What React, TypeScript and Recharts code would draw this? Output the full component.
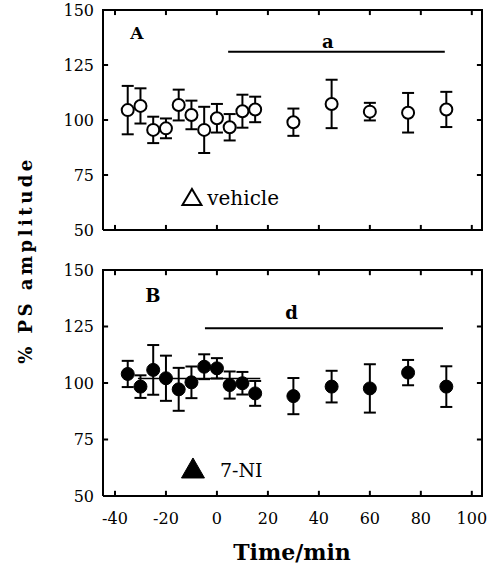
import React from 'react';
import { ScatterChart, Scatter, XAxis, YAxis, ErrorBar, ReferenceLine, ReferenceDot } from 'recharts';

const times = [-35, -30, -25, -20, -15, -10, -5, 0, 5, 10, 15, 30, 45, 60, 75, 90];
const vehicleMean = [104.5, 106.4, 95.5, 96.2, 106.8, 102.3, 95.5, 100.8, 96.7, 104, 104.8, 99, 107.3, 103.8, 103.3, 104.8];
const vehicleSem = [11, 8, 6, 4.5, 7, 6.5, 10.5, 6.5, 6, 7.5, 5.8, 6.2, 11, 4, 9, 8];
const niMean = [104, 98.4, 105.8, 102.1, 97.2, 100.3, 107.2, 106.5, 99.1, 99.9, 95.4, 94.2, 98.4, 97.6, 104.6, 98.4];
const niSem = [5.8, 5, 11, 10, 9.5, 7, 5.5, 4.5, 6, 5, 5.5, 8, 7, 10.7, 5.6, 9];
const xTicks = [-40, -20, 0, 20, 40, 60, 80, 100];
const yTicks = [50, 75, 100, 125, 150];

const dataA = times.map((t, i) => ({ t, v: vehicleMean[i], err: vehicleSem[i] }));
const dataB = times.map((t, i) => ({ t, v: niMean[i], err: niSem[i] }));

const FONT = 'DejaVu Serif';
const X_DOMAIN: [number, number] = [-44.7, 104];
const Y_DOMAIN: [number, number] = [50, 150];
const X_TICK_LEN = 2.3; // in y units (~5px)
const Y_TICK_LEN = 2; // in x units (~5px)

const NoShape = () => <g />;
const OpenCircle = (p: any) => (
  <circle cx={p.cx} cy={p.cy} r={6} fill="#fff" stroke="#000" strokeWidth={2} />
);
const FilledCircle = (p: any) => (
  <circle cx={p.cx} cy={p.cy} r={6.5} fill="#000" stroke="#000" strokeWidth={1} />
);

const textShape = (label: string, size: number, bold: boolean, anchor: string = 'middle', dx = 0, dy = 0) => (p: any) => (
  <text x={p.cx + dx} y={p.cy + dy} textAnchor={anchor} dominantBaseline="central" fontFamily={FONT} fontSize={size} fontWeight={bold ? 'bold' : 'normal'} fill="#000">
    {label}
  </text>
);
const triShape = (filled: boolean, w: number, h: number) => (p: any) => (
  <polygon
    points={`${p.cx - w / 2},${p.cy + h / 2} ${p.cx + w / 2},${p.cy + h / 2} ${p.cx},${p.cy - h / 2}`}
    fill={filled ? '#000' : '#fff'}
    stroke="#000"
    strokeWidth={filled ? 1 : 2}
    strokeLinejoin="miter"
  />
);

const lineStyle = { stroke: '#000', strokeWidth: 2 };

function frameSeries(prefix: string) {
  const segs: { t: number; v: number }[][] = [];
  segs.push([
    { t: X_DOMAIN[0], v: Y_DOMAIN[0] },
    { t: X_DOMAIN[0], v: Y_DOMAIN[1] },
    { t: X_DOMAIN[1], v: Y_DOMAIN[1] },
    { t: X_DOMAIN[1], v: Y_DOMAIN[0] },
    { t: X_DOMAIN[0], v: Y_DOMAIN[0] },
  ]);
  xTicks.forEach((t) => {
    segs.push([{ t, v: Y_DOMAIN[0] }, { t, v: Y_DOMAIN[0] + X_TICK_LEN }]);
    segs.push([{ t, v: Y_DOMAIN[1] }, { t, v: Y_DOMAIN[1] - X_TICK_LEN }]);
  });
  yTicks.forEach((v) => {
    segs.push([{ t: X_DOMAIN[0], v }, { t: X_DOMAIN[0] + Y_TICK_LEN, v }]);
    segs.push([{ t: X_DOMAIN[1], v }, { t: X_DOMAIN[1] - Y_TICK_LEN, v }]);
  });
  return segs.map((seg, i) => (
    <Scatter key={prefix + 'seg' + i} data={seg} dataKey="v" line={lineStyle} lineJointType="linear"
      shape={NoShape} fill="#000" legendType="none" isAnimationActive={false} />
  ));
}

function labelDots(prefix: string, withXLabels: boolean) {
  const els: any[] = [];
  if (withXLabels) {
    xTicks.forEach((t) => {
      els.push(<ReferenceDot key={prefix + 'xl' + t} x={t} y={Y_DOMAIN[0]} r={0} ifOverflow="visible" shape={textShape(String(t), 16, false, 'middle', 0, 22)} />);
    });
  }
  yTicks.forEach((v) => {
    els.push(<ReferenceDot key={prefix + 'ylab' + v} x={X_DOMAIN[0]} y={v} r={0} ifOverflow="visible" shape={textShape(String(v), 16, false, 'end', -9, 0)} />);
  });
  return els;
}

export default function App() {
  return (
    <div style={{ position: 'absolute', left: 0, top: 0, width: 494, height: 568, background: '#fff' }}>
      <div style={{ position: 'absolute', left: 0, top: 0 }}>
        <ScatterChart width={494} height={250} margin={{ top: 10, right: 12, bottom: 19, left: 0 }}>
          <XAxis dataKey="t" type="number" domain={X_DOMAIN} height={1} axisLine={false} tickLine={false} tick={false} />
          <YAxis dataKey="v" type="number" domain={Y_DOMAIN} width={103} axisLine={false} tickLine={false} tick={false} />
          {frameSeries('a')}
          {labelDots('a', false)}
          <ReferenceLine segment={[{ x: 4.4, y: 131 }, { x: 89.4, y: 131 }]} stroke="#000" strokeWidth={2} ifOverflow="visible" />
          <ReferenceDot x={43.5} y={135.5} r={0} ifOverflow="visible" shape={textShape('a', 18, true)} />
          <ReferenceDot x={-31.4} y={139.5} r={0} ifOverflow="visible" shape={textShape('A', 17, true)} />
          <ReferenceDot x={-9.8} y={65} r={0} ifOverflow="visible" shape={triShape(false, 19, 16)} />
          <ReferenceDot x={-3.8} y={64.5} r={0} ifOverflow="visible" shape={textShape('vehicle', 20, false, 'start')} />
          <Scatter data={dataA} dataKey="v" shape={OpenCircle} isAnimationActive={false}>
            <ErrorBar dataKey="err" direction="y" width={6} stroke="#000" strokeWidth={2} />
          </Scatter>
        </ScatterChart>
      </div>
      <div style={{ position: 'absolute', left: 0, top: 250 }}>
        <ScatterChart width={494} height={318} margin={{ top: 20, right: 12, bottom: 42, left: 0 }}>
          <XAxis dataKey="t" type="number" domain={X_DOMAIN} height={30} axisLine={false} tickLine={false} tick={false} />
          <YAxis dataKey="v" type="number" domain={Y_DOMAIN} width={103} axisLine={false} tickLine={false} tick={false} />
          {frameSeries('b')}
          {labelDots('b', true)}
          <ReferenceLine segment={[{ x: -4.7, y: 124.2 }, { x: 88.7, y: 124.2 }]} stroke="#000" strokeWidth={2} ifOverflow="visible" />
          <ReferenceLine segment={[{ x: -31, y: 102 }, { x: 17, y: 102 }]} stroke="#000" strokeWidth={1.5} ifOverflow="visible" />
          <ReferenceDot x={29.3} y={131.4} r={0} ifOverflow="visible" shape={textShape('d', 18, true)} />
          <ReferenceDot x={-25.1} y={138.9} r={0} ifOverflow="visible" shape={textShape('B', 18, true)} />
          <ReferenceDot x={-9.4} y={62.4} r={0} ifOverflow="visible" shape={triShape(true, 23, 20)} />
          <ReferenceDot x={1.2} y={61.5} r={0} ifOverflow="visible" shape={textShape('7-NI', 19, false, 'start')} />
          <Scatter data={dataB} dataKey="v" shape={FilledCircle} isAnimationActive={false}>
            <ErrorBar dataKey="err" direction="y" width={6} stroke="#000" strokeWidth={2} />
          </Scatter>
        </ScatterChart>
      </div>
      <svg width={494} height={568} style={{ position: 'absolute', left: 0, top: 0, pointerEvents: 'none' }}>
        <text x={25} y={260} transform="rotate(-90 25 260)" textAnchor="middle" dominantBaseline="central"
          fontFamily={FONT} fontSize={18} fontWeight="bold" letterSpacing={3.5} fill="#000">
          % PS amplitude
        </text>
        <text x={292} y={552} textAnchor="middle" dominantBaseline="central" fontFamily={FONT} fontSize={22} fontWeight="bold" fill="#000">
          Time/min
        </text>
      </svg>
    </div>
  );
}
